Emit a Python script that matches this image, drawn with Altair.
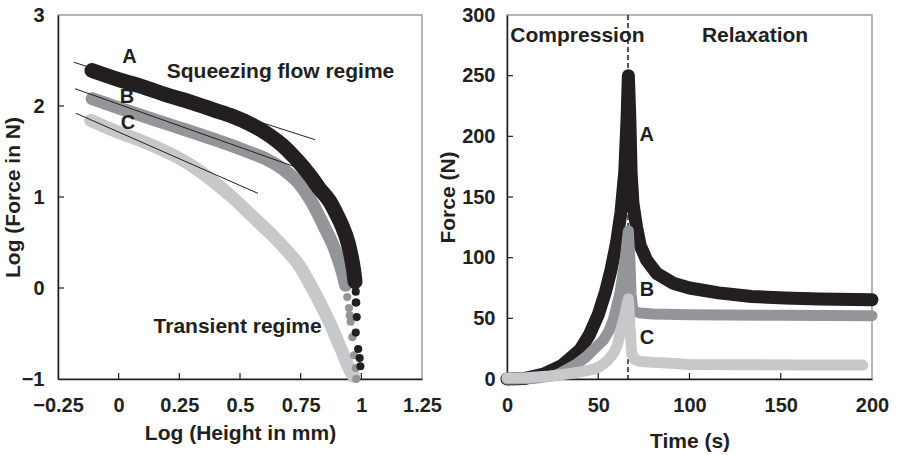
import altair as alt
import pandas as pd

INK = "#231f20"
GREY = "#939598"
LIGHT = "#c7c8ca"
FONT = "Liberation Sans"

# ---------------- Left panel: log force vs log height ----------------
# dense (continuous) part of each curve
A_dense_x = [-0.11, 0.0, 0.1, 0.2, 0.3, 0.4, 0.467, 0.551, 0.62, 0.674, 0.72, 0.757, 0.79, 0.825, 0.87, 0.90, 0.921, 0.945, 0.958, 0.968, 0.974]
A_dense_y = [2.39, 2.29, 2.21, 2.12, 2.04, 1.95, 1.89, 1.79, 1.68, 1.57, 1.45, 1.34, 1.23, 1.10, 0.95, 0.80, 0.68, 0.50, 0.35, 0.20, 0.07]
B_dense_x = [-0.109, 0.0, 0.146, 0.25, 0.352, 0.45, 0.53, 0.606, 0.68, 0.743, 0.79, 0.846, 0.894, 0.921, 0.935]
B_dense_y = [2.08, 1.98, 1.85, 1.76, 1.67, 1.58, 1.50, 1.42, 1.30, 1.15, 0.97, 0.68, 0.40, 0.18, 0.03]
C_dense_x = [-0.115, 0.0, 0.1, 0.194, 0.26, 0.331, 0.40, 0.467, 0.55, 0.633, 0.69, 0.743, 0.785, 0.825, 0.855, 0.88, 0.90, 0.921, 0.949, 0.968]
C_dense_y = [1.84, 1.71, 1.61, 1.50, 1.41, 1.29, 1.15, 1.00, 0.79, 0.58, 0.42, 0.25, 0.06, -0.14, -0.30, -0.44, -0.57, -0.70, -0.88, -0.97]
# sparse tail points (separate dots)
A_tail_x = [0.977, 0.977, 0.979, 0.981, 0.977, 0.987, 0.993, 0.996]
A_tail_y = [-0.04, -0.16, -0.16, -0.32, -0.49, -0.67, -0.77, -0.86]
B_tail_x = [0.942, 0.949, 0.952, 0.956, 0.963, 0.970, 0.977, 0.979]
B_tail_y = [-0.10, -0.22, -0.30, -0.37, -0.54, -0.74, -0.88, -1.0]
# tangent lines (start x, start y, end x, end y)
TAN_x0 = [-0.184, -0.18, -0.176]
TAN_y0 = [2.48, 2.19, 1.92]
TAN_x1 = [0.809, 0.739, 0.574]
TAN_y1 = [1.63, 1.32, 1.04]
# annotations
L_LABELS = ["A", "B", "C", "Squeezing flow regime", "Transient regime"]
L_LABEL_X = [0.045, 0.034, 0.038, 0.667, 0.49]
L_LABEL_Y = [2.54, 2.10, 1.81, 2.377, -0.43]
L_LABEL_SIZE = [20, 20, 20, 21, 21]
L_XTICKS = [-0.25, 0, 0.25, 0.5, 0.75, 1, 1.25]
L_YTICKS = [-1, 0, 1, 2, 3]

# ---------------- Right panel: force vs time ----------------
A_t = [0, 10, 20, 30, 40, 45, 50, 54, 57, 60, 62.5, 64.5, 65.8, 66.5, 67.3, 68, 69, 71, 73, 76.5, 82, 91, 100, 116, 134, 152, 171, 200]
A_f = [0, 0.5, 4, 11, 24, 36, 53, 72, 90, 112, 138, 170, 215, 250, 215, 170, 145, 125, 110, 98, 87, 79, 75, 71, 68, 66.8, 66, 65.3]
B_t = [0, 15, 27, 32.7, 38, 43.7, 48, 52.8, 56, 58.3, 61.9, 64.7, 66.5, 67.3, 68, 69, 73, 80, 100, 150, 200]
B_f = [0, 0.5, 3, 7.7, 12, 18.7, 25, 32, 40, 49, 71, 98, 122, 100, 70, 56, 54.4, 53.5, 53, 52.5, 52.2]
C_t = [0, 10, 23.6, 35, 41.8, 47, 51, 55, 58.3, 60.5, 62, 64.7, 66.5, 67.3, 68.3, 70, 73, 80, 87.5, 100, 130, 160, 195]
C_f = [0.8, 1, 2.5, 4.5, 6.3, 8, 10.4, 15, 21, 28, 38, 54, 66, 45, 21, 16, 14.5, 13.7, 13.2, 12, 11.8, 11.5, 11.5]
DIVIDE_T = [66.3]
R_LABELS = ["Compression", "Relaxation", "A", "B", "C"]
R_LABEL_X = [38.6, 135.9, 76.5, 76.7, 76.7]
R_LABEL_Y = [282.7, 282.7, 201, 73.6, 33.8]
R_LABEL_SIZE = [21, 21, 20, 20, 20]
R_XTICKS = [0, 50, 100, 150, 200]
R_YTICKS = [0, 50, 100, 150, 200, 250, 300]

W_L, W_R, H = 364, 365, 364
TICK = 6


def frame(xs, ys):
    d = pd.DataFrame({"x": xs, "y": ys})
    d["i"] = range(len(d))
    return d


# ---------- left chart ----------
lx = alt.Scale(domain=[-0.25, 1.25], nice=False, zero=False)
ly = alt.Scale(domain=[-1, 3], nice=False, zero=False)
LX = alt.X("x:Q", scale=lx, axis=alt.Axis(values=L_XTICKS, format=".2~f", title="Log (Height in mm)",
                                          labelPadding=16, labelFlush=False, labelOverlap=False,
                                          titleY=54, titleBaseline="middle"))
LY = alt.Y("y:Q", scale=ly, axis=alt.Axis(values=L_YTICKS, format="d", title="Log (Force in N)",
                                          labelPadding=14, labelOverlap=False,
                                          titleX=-45, titleBaseline="middle"))

left_layers = []
for xs, ys, col, w in [(C_dense_x, C_dense_y, LIGHT, 13), (B_dense_x, B_dense_y, GREY, 13),
                       (A_dense_x, A_dense_y, INK, 15)]:
    left_layers.append(
        alt.Chart(frame(xs, ys)).mark_line(color=col, strokeWidth=w, strokeCap="round", strokeJoin="round",
                                           interpolate="monotone")
        .encode(x=LX, y=LY, order="i:Q"))
for xs, ys, col in [(B_tail_x, B_tail_y, GREY), (A_tail_x, A_tail_y, INK)]:
    left_layers.append(
        alt.Chart(frame(xs, ys)).mark_circle(color=col, size=66, opacity=1).encode(x=LX, y=LY))

tan = pd.DataFrame({"x": TAN_x0, "y": TAN_y0, "x2": TAN_x1, "y2": TAN_y1})
left_layers.append(alt.Chart(tan).mark_rule(color=INK, strokeWidth=1)
                   .encode(x=LX, y=LY, x2="x2:Q", y2="y2:Q"))

lt = pd.DataFrame({"x": L_LABEL_X, "y": L_LABEL_Y, "t": L_LABELS, "s": L_LABEL_SIZE})
left_layers.append(alt.Chart(lt).mark_text(font=FONT, fontWeight="bold", color=INK, baseline="middle", align="center")
                   .encode(x=LX, y=LY, text="t:N", size=alt.Size("s:Q", scale=None, legend=None)))

lxt = pd.DataFrame({"x": L_XTICKS[1:-1]})
left_layers.append(alt.Chart(lxt).mark_rule(color=INK, strokeWidth=1.2)
                   .encode(x=LX, y=alt.value(H), y2=alt.value(H - TICK)))
lyt = pd.DataFrame({"y": L_YTICKS[1:-1]})
left_layers.append(alt.Chart(lyt).mark_rule(color=INK, strokeWidth=1.2)
                   .encode(y=LY, x=alt.value(0), x2=alt.value(TICK)))

left = alt.layer(*left_layers).properties(width=W_L, height=H)

# ---------- right chart ----------
rx = alt.Scale(domain=[0, 200], nice=False, zero=False)
ry = alt.Scale(domain=[0, 300], nice=False, zero=False)
RX = alt.X("x:Q", scale=rx, axis=alt.Axis(values=R_XTICKS, format="d", title="Time (s)",
                                          labelPadding=16, labelFlush=False, labelOverlap=False,
                                          titleY=62, titleBaseline="middle"))
RY = alt.Y("y:Q", scale=ry, axis=alt.Axis(values=R_YTICKS, format="d", title="Force (N)",
                                          labelPadding=12, labelOverlap=False,
                                          titleX=-59, titleBaseline="middle"))

right_layers = []
right_layers.append(alt.Chart(pd.DataFrame({"x": DIVIDE_T})).mark_rule(color=INK, strokeWidth=1.5, strokeDash=[5, 3])
                    .encode(x=RX))
for xs, ys, col, w in [(A_t, A_f, INK, 13), (B_t, B_f, GREY, 11), (C_t, C_f, LIGHT, 11)]:
    right_layers.append(
        alt.Chart(frame(xs, ys)).mark_line(color=col, strokeWidth=w, strokeCap="round", strokeJoin="round")
        .encode(x=RX, y=RY, order="i:Q"))

rt = pd.DataFrame({"x": R_LABEL_X, "y": R_LABEL_Y, "t": R_LABELS, "s": R_LABEL_SIZE})
right_layers.append(alt.Chart(rt).mark_text(font=FONT, fontWeight="bold", color=INK, baseline="middle", align="center")
                    .encode(x=RX, y=RY, text="t:N", size=alt.Size("s:Q", scale=None, legend=None)))
rxt = pd.DataFrame({"x": R_XTICKS[1:-1]})
right_layers.append(alt.Chart(rxt).mark_rule(color=INK, strokeWidth=1.2)
                    .encode(x=RX, y=alt.value(H), y2=alt.value(H - TICK)))
ryt = pd.DataFrame({"y": R_YTICKS[1:-1]})
right_layers.append(alt.Chart(ryt).mark_rule(color=INK, strokeWidth=1.2)
                    .encode(y=RY, x=alt.value(0), x2=alt.value(TICK)))

right = alt.layer(*right_layers).properties(width=W_R, height=H)

chart = alt.hconcat(left, right, spacing=85, bounds="flush").properties(
    autosize=alt.AutoSizeParams(type="pad"),
    padding={"left": 1, "top": 4, "right": 0, "bottom": 0},
    background="white",
).configure_view(stroke="#9d9d9d", strokeWidth=1.5).configure_axis(
    grid=False, ticks=False, tickSize=0,
    domainColor=INK, domainWidth=1.5,
    labelFont=FONT, labelFontSize=20, labelFontWeight="bold", labelColor=INK,
    titleFont=FONT, titleFontSize=21, titleFontWeight="bold", titleColor=INK,
)

chart.save("out.html", embed_options={"renderer": "svg", "actions": False})
